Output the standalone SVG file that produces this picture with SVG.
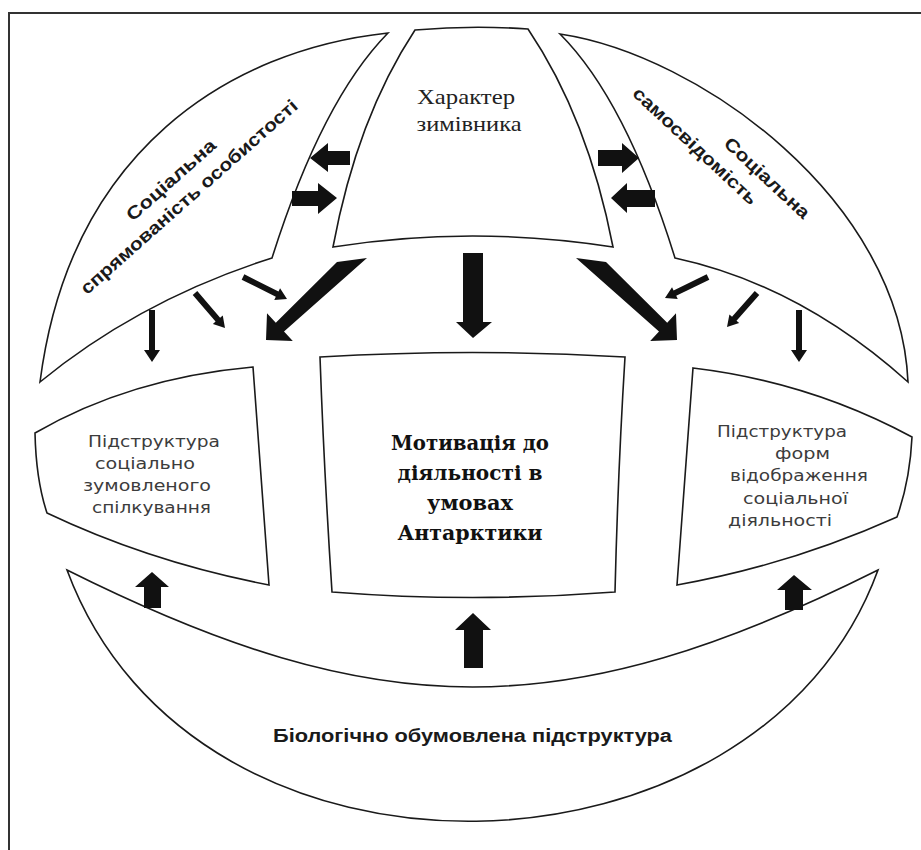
<svg xmlns="http://www.w3.org/2000/svg" width="921" height="850" viewBox="0 0 921 850">
<style>
.shape{fill:#fff;stroke:#1a1a1a;stroke-width:1.6;stroke-linejoin:miter}
.arr{fill:#111;stroke:none}
.rot{font-family:"Liberation Sans",Arial,sans-serif;font-weight:bold;font-size:18px;fill:#1a1a1a}
.box{font-family:"DejaVu Sans","Liberation Sans",sans-serif;font-size:16px;fill:#3c3c3c}
.main{font-family:"DejaVu Serif","Liberation Serif",serif;font-weight:bold;font-size:21px;fill:#111}
.top{font-family:"Liberation Serif","Times New Roman",serif;font-size:22px;fill:#222}
.bio{font-family:"Liberation Sans",Arial,sans-serif;font-weight:bold;font-size:18px;fill:#1a1a1a}
</style>
<rect width="921" height="850" fill="#fff"/>
<path d="M9,850 V13 H921" fill="none" stroke="#333" stroke-width="2"/>

<g id="social-orientation">
<path class="shape" d="M388,33 C230,50 70,150 40,382 Q140,300 272,258 Q322,100 388,33 Z"/>
<text class="rot" text-anchor="middle" transform="translate(175,184.5) rotate(-41.5)" textLength="113" lengthAdjust="spacingAndGlyphs">Соціальна</text>
<text class="rot" text-anchor="middle" transform="translate(193,201.5) rotate(-41.5)" textLength="283" lengthAdjust="spacingAndGlyphs">спрямованість особистості</text>
</g>

<g id="character">
<path class="shape" d="M415,30 Q472,25 528,29 Q588,118 613,247 Q472,225 333,247 Q357,118 415,30 Z"/>
<text class="top" text-anchor="middle" x="466" y="104" textLength="98" lengthAdjust="spacingAndGlyphs">Характер</text>
<text class="top" text-anchor="middle" x="469" y="131" textLength="105" lengthAdjust="spacingAndGlyphs">зимівника</text>
</g>

<g id="social-selfawareness">
<path class="shape" d="M560,34 C700,55 900,200 908,382 Q800,285 675,258 Q626,100 560,34 Z"/>
<text class="rot" text-anchor="middle" transform="translate(763,182.4) rotate(43)" textLength="110" lengthAdjust="spacingAndGlyphs">Соціальна</text>
<text class="rot" text-anchor="middle" transform="translate(691,150.4) rotate(43)" textLength="163" lengthAdjust="spacingAndGlyphs">самосвідомість</text>
</g>

<g id="communication">
<path class="shape" d="M35,433 Q130,378 253,367 L269,585 Q150,562 47,513 Q36,480 35,433 Z"/>
<text class="box" x="88" y="447" textLength="132" lengthAdjust="spacingAndGlyphs">Підструктура</text>
<text class="box" x="95" y="469" textLength="100" lengthAdjust="spacingAndGlyphs">соціально</text>
<text class="box" x="83" y="491" textLength="128" lengthAdjust="spacingAndGlyphs">зумовленого</text>
<text class="box" x="92" y="513" textLength="119" lengthAdjust="spacingAndGlyphs">спілкування</text>
</g>

<g id="motivation">
<path class="shape" d="M320,357 Q472,348 625,357 Q618,470 615,592 Q472,603 332,592 Q324,470 320,357 Z"/>
<text class="main" text-anchor="middle" x="470" y="450" textLength="158" lengthAdjust="spacingAndGlyphs">Мотивація до</text>
<text class="main" text-anchor="middle" x="470" y="480" textLength="145" lengthAdjust="spacingAndGlyphs">діяльності в</text>
<text class="main" text-anchor="middle" x="470" y="510" textLength="86" lengthAdjust="spacingAndGlyphs">умовах</text>
<text class="main" text-anchor="middle" x="470" y="540" textLength="145" lengthAdjust="spacingAndGlyphs">Антарктики</text>
</g>

<g id="reflection-forms">
<path class="shape" d="M693,368 Q810,382 912,437 Q910,480 897,517 Q790,565 677,585 L693,368 Z"/>
<text class="box" x="717" y="437" textLength="130" lengthAdjust="spacingAndGlyphs">Підструктура</text>
<text class="box" x="775" y="459" textLength="55" lengthAdjust="spacingAndGlyphs">форм</text>
<text class="box" x="730" y="481" textLength="138" lengthAdjust="spacingAndGlyphs">відображення</text>
<text class="box" x="743" y="504" textLength="105" lengthAdjust="spacingAndGlyphs">соціальної</text>
<text class="box" x="728" y="526" textLength="104" lengthAdjust="spacingAndGlyphs">діяльності</text>
</g>

<g id="biological">
<path class="shape" d="M67,570 C379,726 566,726 878,570 C760,895 195,915 67,570 Z"/>
<text class="bio" x="273" y="742" textLength="399" lengthAdjust="spacingAndGlyphs">Біологічно обумовлена підструктура</text>
</g>

<g id="connectors">
<polygon class="arr" points="310,158 328,143 328,151 350,151 350,165 328,165 328,172"/>
<polygon class="arr" points="292,191 318,191 318,183 337,198 318,214 318,206 292,206"/>
<polygon class="arr" points="598,150 622,150 622,143 639,158 622,173 622,166 598,166"/>
<polygon class="arr" points="611,198 627,183 627,190 655,190 655,207 627,207 627,213"/>
<polygon class="arr" points="463,253 483,253 483,322 492,322 473,338 456,322 463,322"/>
<polygon class="arr" points="337,262 367,258 284,331.5 292.8,341 266,340 267,313.2 275.8,322.7"/>
<polygon class="arr" points="606,262 576,258 659,331.5 650.2,341 677,340 676,313.2 667.2,322.7"/>
<polygon class="arr" points="149,310 155,310 155,350 160,350 152,362 144,350 149,350"/>
<polygon class="arr" points="796,310 802,310 802,350 807,350 799,362 791,350 796,350"/>
<polygon class="arr" points="197.28,291.05 220.12,317.7 222.77,315.42 225,328 212.91,323.88 215.56,321.6 192.72,294.95"/>
<polygon class="arr" points="244.34,274.32 278.5,291.4 280.07,288.27 287,299 274.25,299.89 275.82,296.76 241.66,279.68"/>
<polygon class="arr" points="709.32,279.7 676.21,295.87 677.74,299.01 665,298 672.04,287.33 673.57,290.47 706.68,274.3"/>
<polygon class="arr" points="759.25,294.99 736.53,320.74 739.16,323.05 727,327 729.41,314.45 732.03,316.76 754.75,291.01"/>
<polygon class="arr" points="144,608 144,587 135,587 152,572 169,587 161,587 161,608"/>
<polygon class="arr" points="464,668 464,630 455,630 473,613 491,630 483,630 483,668"/>
<polygon class="arr" points="785,610 785,590 777,590 794,575 812,590 803,590 803,610"/>
</g>
</svg>
